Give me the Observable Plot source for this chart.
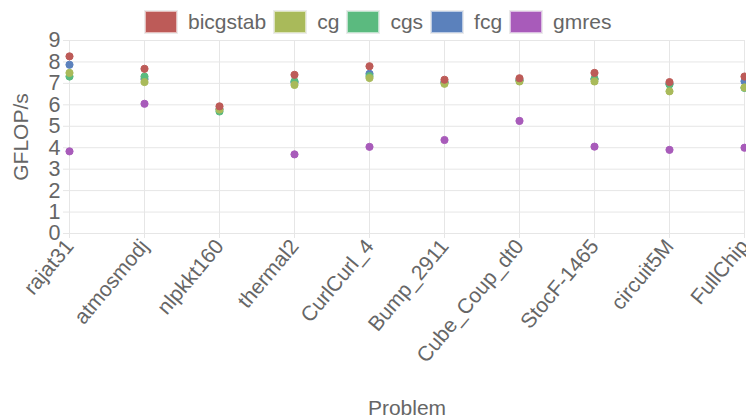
<!DOCTYPE html>
<html>
<head>
<meta charset="utf-8">
<script src="https://cdn.jsdelivr.net/npm/d3@7"></script>
<script src="https://cdn.jsdelivr.net/npm/@observablehq/plot@0.6"></script>
<style>
  body { margin: 0; background: #fff; font-family: "Liberation Sans", Arial, sans-serif; }
  #wrap { position: relative; width: 746px; height: 419px; overflow: hidden; }
  #legend { position: absolute; top: 10px; left: 145px; display: flex; align-items: center; font-size: 21px; color: #666; line-height: 23px; white-space: nowrap; }
  .item { display: flex; align-items: center; margin-right: 8px; }
  .sw { width: 30px; height: 20px; margin-right: 11px; border: 1px solid rgba(255,255,255,0.6); box-shadow: 0 0 0 1px rgba(0,0,0,0.08); }
  #chart { position: absolute; top: 0; left: 0; }
</style>
</head>
<body>
<div id="wrap">
  <div id="chart"></div>
  <div id="legend"></div>
</div>
<script>
const problems = ["rajat31", "atmosmodj", "nlpkkt160", "thermal2", "CurlCurl_4", "Bump_2911", "Cube_Coup_dt0", "StocF-1465", "circuit5M", "FullChip"];
const seriesNames = ["bicgstab", "cg", "cgs", "fcg", "gmres"];
const seriesColors = ["#bd5b58", "#a9ba5a", "#5bba7f", "#5b81bc", "#a85bba"];

const bicgstab = [8.26, 7.68, 5.93, 7.40, 7.80, 7.17, 7.24, 7.49, 7.06, 7.32];
const cg       = [7.49, 7.06, 5.78, 6.93, 7.25, 6.98, 7.09, 7.09, 6.63, 6.81];
const cgs      = [7.32, 7.32, 5.69, 7.10, 7.34, 7.05, 7.15, 7.21, 6.95, 6.79];
const fcg      = [7.87, 7.20, 5.80, 7.05, 7.45, 7.06, 7.15, 7.20, 6.98, 7.10];
const gmres    = [3.83, 6.05, null, 3.69, 4.04, 4.36, 5.25, 4.05, 3.90, 4.00];

const yTicks = [0, 1, 2, 3, 4, 5, 6, 7, 8, 9];
const yLabel = "GFLOP/s";
const xLabel = "Problem";

const seriesValues = [bicgstab, cg, cgs, fcg, gmres];
const rows = [];
// draw last series first so bicgstab ends on top
for (let i = seriesNames.length - 1; i >= 0; i--) {
  problems.forEach((p, j) => {
    const v = seriesValues[i][j];
    if (v != null) rows.push({problem: p, series: seriesNames[i], value: v});
  });
}

const font = "'Liberation Sans', Arial, sans-serif";
const chart = Plot.plot({
  width: 746,
  height: 419,
  marginTop: 40,
  marginBottom: 186,
  marginLeft: 68,
  marginRight: 1,
  style: {fontFamily: font, background: "transparent", color: "#666"},
  x: {type: "point", domain: problems, padding: 0, label: null},
  y: {domain: [0, 9], label: null},
  color: {domain: seriesNames, range: seriesColors},
  marks: [
    Plot.gridY(yTicks, {stroke: "#e6e6e6", strokeOpacity: 1}),
    Plot.gridX(problems, {stroke: "#e6e6e6", strokeOpacity: 1}),
    Plot.axisY(yTicks, {tickSize: 5, tickPadding: 3, stroke: "#e6e6e6", strokeOpacity: 1, fill: "#666", fontSize: 21.5, label: null}),
    Plot.axisX(problems, {tickSize: 5, tickPadding: 4, tickRotate: -50, stroke: "#e6e6e6", strokeOpacity: 1, fill: "#666", fontSize: 21, label: null}),
    Plot.text([yLabel], {frameAnchor: "left", dx: -47, rotate: -90, textAnchor: "middle", lineAnchor: "middle", fontSize: 21, fill: "#666"}),
    Plot.text([xLabel], {frameAnchor: "bottom", dy: 175, textAnchor: "middle", lineAnchor: "middle", fontSize: 21, fill: "#666"}),
    Plot.dot(rows, {x: "problem", y: "value", fill: "series", stroke: "series", r: 3.6, strokeWidth: 1})
  ]
});
document.getElementById("chart").appendChild(chart);

const legend = document.getElementById("legend");
seriesNames.forEach((name, i) => {
  const item = document.createElement("div");
  item.className = "item";
  const sw = document.createElement("div");
  sw.className = "sw";
  sw.style.background = seriesColors[i];
  const label = document.createElement("span");
  label.textContent = name;
  item.appendChild(sw);
  item.appendChild(label);
  legend.appendChild(item);
});
</script>
</body>
</html>
